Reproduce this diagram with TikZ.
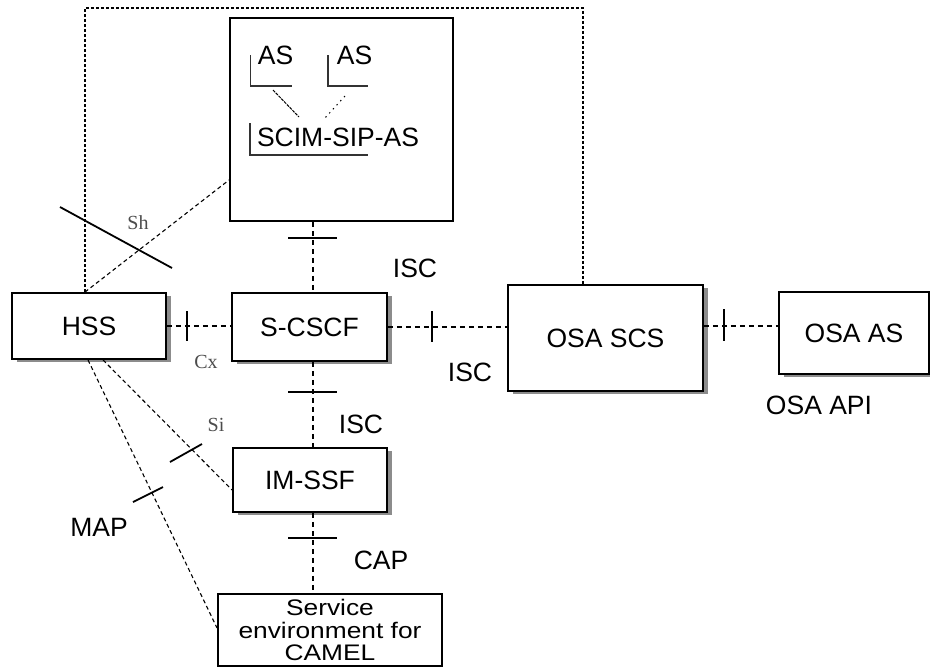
\documentclass[tikz,border=0pt]{standalone}
\usepackage{fontspec}
\usepackage{graphicx}
\setmainfont{Liberation Sans}
\newfontfamily\serifsmall{Liberation Serif}
\usetikzlibrary{shadows,calc}
\begin{document}
\begin{tikzpicture}[x=1pt,y=-1pt,
  box/.style={draw, line width=1.9pt, fill=white, inner sep=0pt, font=\fontsize{26.5}{26.5}\selectfont},
  shbox/.style={box, drop shadow={shadow xshift=5pt, shadow yshift=-3pt, fill=black!45, opacity=1}},
  conn/.style={line width=1.4pt, dash pattern=on 5pt off 4pt},
  thinconn/.style={line width=1.1pt, dash pattern=on 4pt off 3pt},
  outer/.style={line width=1.3pt, dash pattern=on 3pt off 2pt},
  tickline/.style={line width=1.8pt},
  bracket/.style={line width=1.5pt, black!80},
  lbl/.style={font=\fontsize{26.5}{26.5}\selectfont, inner sep=0pt},
  small/.style={font=\serifsmall\fontsize{20}{20}\selectfont, text=black!70, inner sep=0pt}]
\useasboundingbox (0,0) rectangle (930,667);

% boxes
\node[box, minimum width=223pt, minimum height=203pt] (sipas) at (341.5,119.5) {};
\node[shbox, minimum width=154pt, minimum height=66pt] (hss) at (89,326) {HSS};
\node[shbox, minimum width=155pt, minimum height=68pt] (scscf) at (309.5,327) {S-CSCF};
\node[shbox, minimum width=154pt, minimum height=64pt] (imssf) at (310,480) {IM-SSF};
\node[box, minimum width=224pt, minimum height=72pt, align=center, font=\fontsize{22.5}{22.5}\selectfont] (senv) at (330,630) {\scalebox{1.17}[1]{Service}\\\scalebox{1.17}[1]{environment for}\\\scalebox{1.17}[1]{CAMEL}};
\node[shbox, minimum width=195pt, minimum height=106pt] (osascs) at (605.5,338) {OSA SCS};
\node[shbox, minimum width=150pt, minimum height=82pt] (osaas) at (854,333) {OSA AS};

% inside SIP AS box
\node[lbl] (as1) at (275.5,55.5) {AS};
\node[lbl] (as2) at (354.5,55.5) {AS};
\node[lbl] (scim) at (338,137.5) {SCIM-SIP-AS};
\draw[bracket] (250.5,55) |- (292,86);
\draw[bracket] (328,55) |- (368,86);
\draw[bracket] (250,123) |- (368,155);
\coordinate (a1s) at (273,90);
\coordinate (a1e) at (299,117);
\coordinate (a2s) at (345,96);
\coordinate (a2e) at (325,118);
\draw[line width=1pt, dash pattern=on 3pt off 1pt] (a1s) -- (a1e);
\draw[line width=1pt, dash pattern=on 1.5pt off 4pt] (a2s) -- (a2e);

% outer dotted frame
\coordinate (otop) at (583,8);
\draw[outer] ([xshift=-4pt]hss.north) |- (otop) -- ([xshift=-22.5pt]osascs.north);

% Sh
\draw[thinconn] ([xshift=-4pt]hss.north) -- ([yshift=-60.5pt]sipas.west);
\coordinate (sh1) at (60,207);
\coordinate (sh2) at (172,268);
\draw[tickline] (sh1) -- (sh2);
\node[small] (shl) at (138,223) {Sh};

% Cx: HSS - S-CSCF
\draw[conn] (hss.east) -- (hss.east -| scscf.west);
\coordinate (cxa) at (187,311);
\coordinate (cxb) at (187,341);
\draw[tickline] (cxa) -- (cxb);
\node[small] (cx) at (206,362) {Cx};

% ISC: S-CSCF - OSA SCS
\draw[conn] (scscf.east) -- (scscf.east -| osascs.west);
\coordinate (i1a) at (432,311);
\coordinate (i1b) at (432,342);
\draw[tickline] (i1a) -- (i1b);
\node[lbl] (isc1) at (470,372) {ISC};

% OSA API: OSA SCS - OSA AS
\draw[conn] ([yshift=12pt]osascs.east) -- ([yshift=12pt]osascs.east -| osaas.west);
\coordinate (oaa) at (724,309);
\coordinate (oab) at (724,341);
\draw[tickline] (oaa) -- (oab);
\node[lbl] (osaapi) at (819,405) {OSA API};

% ISC: SIP AS - S-CSCF
\draw[conn] ([xshift=-28.5pt]sipas.south) -- ([xshift=-28.5pt]sipas.south |- scscf.north);
\coordinate (i2a) at (288,238);
\coordinate (i2b) at (337,238);
\draw[tickline] (i2a) -- (i2b);
\node[lbl] (isc2) at (415,268) {ISC};

% ISC: S-CSCF - IM-SSF
\draw[conn] ([xshift=3.5pt]scscf.south) -- ([xshift=3.5pt]scscf.south |- imssf.north);
\coordinate (i3a) at (288,392);
\coordinate (i3b) at (337,392);
\draw[tickline] (i3a) -- (i3b);
\node[lbl] (isc3) at (361,424) {ISC};

% CAP: IM-SSF - Service environment
\draw[conn] ([xshift=3pt]imssf.south) -- ([xshift=3pt]imssf.south |- senv.north);
\coordinate (ca) at (288,538);
\coordinate (cb) at (337,538);
\draw[tickline] (ca) -- (cb);
\node[lbl] (cap) at (381,560) {CAP};

% Si: HSS - IM-SSF
\draw[thinconn] ([xshift=14pt]hss.south) -- ([yshift=-10pt]imssf.west);
\coordinate (sia) at (170,462);
\coordinate (sib) at (202,444);
\draw[tickline] (sia) -- (sib);
\node[small] (si) at (216,425) {Si};

% MAP: HSS - Service environment
\draw[thinconn] ([xshift=-1pt]hss.south) -- ([yshift=2pt]senv.west);
\coordinate (ma) at (133,502);
\coordinate (mb) at (163,487);
\draw[tickline] (ma) -- (mb);
\node[lbl] (map) at (99,527) {MAP};
\end{tikzpicture}
\end{document}
